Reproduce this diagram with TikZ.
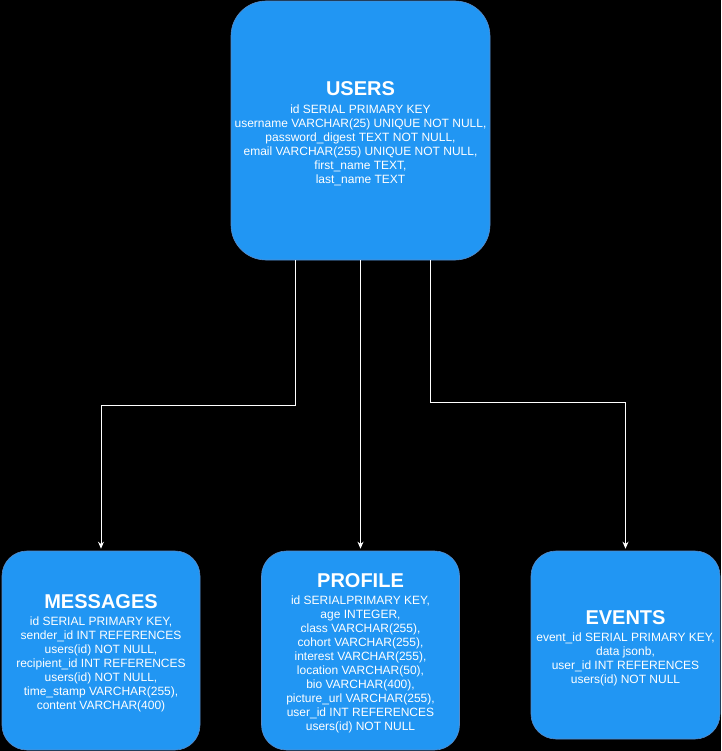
\documentclass[tikz,border=0pt]{standalone}
\usepackage{fontspec}
\setmainfont{Liberation Sans}
\usetikzlibrary{arrows.meta}
\definecolor{boxblue}{RGB}{33,150,243}
\definecolor{edgeblue}{RGB}{90,140,200}
\newcommand{\ttl}[1]{{\fontsize{20}{24}\selectfont\bfseries #1}\\[3.7pt]}
\begin{document}
\begin{tikzpicture}[x=1pt,y=-1pt,
  tbl/.style={draw=edgeblue,line width=0.6pt,fill=boxblue,inner sep=0pt},
  txt/.style={text=white,align=center,font=\fontsize{12}{14}\selectfont,inner sep=0pt},
  arr/.style={draw=white,line width=0.9pt,-{Stealth[length=7pt,width=6pt]},shorten >=2pt}]
\fill[black] (0,0) rectangle (721,751);
\useasboundingbox (0,0) rectangle (721,751);

\node[tbl,rounded corners=35pt,minimum width=259pt,minimum height=259pt] (users) at (360.5,130.5) {};
\node[txt] (userst) at ([yshift=-3pt]users.center)
 {\ttl{USERS}id SERIAL PRIMARY KEY\\username VARCHAR(25) UNIQUE NOT NULL,\\password\_digest TEXT NOT NULL,\\email VARCHAR(255) UNIQUE NOT NULL,\\first\_name TEXT,\\last\_name TEXT};

\node[tbl,rounded corners=25pt,minimum width=198pt,minimum height=199pt] (messages) at (101,650.5) {};
\node[txt] (messagest) at ([yshift=-2.7pt]messages.center)
 {\ttl{MESSAGES}id SERIAL PRIMARY KEY,\\sender\_id INT REFERENCES\\users(id) NOT NULL,\\recipient\_id INT REFERENCES\\users(id) NOT NULL,\\time\_stamp VARCHAR(255),\\content VARCHAR(400)};

\node[tbl,rounded corners=25pt,minimum width=198pt,minimum height=199pt] (profile) at (360.5,650.5) {};
\node[txt] (profilet) at ([yshift=-2.7pt]profile.center)
 {\ttl{PROFILE}id SERIALPRIMARY KEY,\\age INTEGER,\\class VARCHAR(255),\\cohort VARCHAR(255),\\interest VARCHAR(255),\\location VARCHAR(50),\\bio VARCHAR(400),\\picture\_url VARCHAR(255),\\user\_id INT REFERENCES\\users(id) NOT NULL};

\node[tbl,rounded corners=25pt,minimum width=189pt,minimum height=188pt] (events) at (625.5,645) {};
\node[txt] (eventst) at ([yshift=-3.4pt]events.center)
 {\ttl{EVENTS}event\_id SERIAL PRIMARY KEY,\\data jsonb,\\user\_id INT REFERENCES\\users(id) NOT NULL};

\draw[arr] ([xshift=-65pt]users.south) -- ++(0,145) -| (messages.north);
\draw[arr] (users.south) -- (profile.north);
\draw[arr] ([xshift=70pt]users.south) -- ++(0,142) -| (events.north);
\end{tikzpicture}
\end{document}
